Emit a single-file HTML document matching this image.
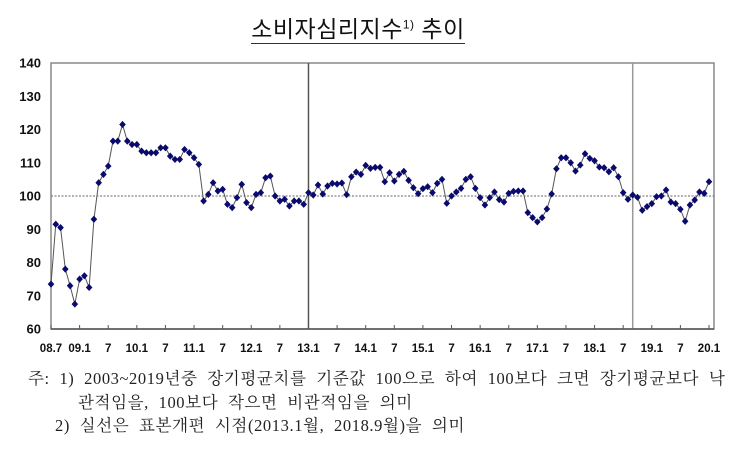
<!DOCTYPE html>
<html><head><meta charset="utf-8"><style>
body{margin:0;background:#fff;width:745px;height:470px;overflow:hidden;position:relative;font-family:"Liberation Sans","Noto Sans CJK KR",sans-serif}
#title{position:absolute;left:0;width:716px;top:10px;text-align:center;font-size:23px;letter-spacing:0.5px;font-family:"Liberation Sans","Noto Sans CJK KR",sans-serif;color:#111}
#title span{border-bottom:1.5px solid #333;padding-bottom:1px}
.note{position:absolute;font-family:"Liberation Serif","Noto Serif CJK KR",serif;font-size:16.5px;color:#222;white-space:nowrap;letter-spacing:0.6px;word-spacing:5px}
</style></head><body>
<div id="title"><span>소비자심리지수<sup style="font-size:12px">1)</sup> 추이</span></div>
<svg id="chart" width="745" height="470" style="position:absolute;left:0;top:0"></svg>
<div class="note" style="left:28px;top:365px">주: 1) 2003~2019년중 장기평균치를 기준값 100으로 하여 100보다 크면 장기평균보다 낙</div>
<div class="note" style="left:78px;top:389px">관적임을, 100보다 작으면 비관적임을 의미</div>
<div class="note" style="left:55px;top:412px">2) 실선은 표본개편 시점(2013.1월, 2018.9월)을 의미</div>
<script>
const values=[73.5,91.5,90.5,78,73,67.5,
75,76,72.5,93,104,106.5,109,116.5,116.5,121.5,116.5,115.5,
115.5,113.5,113,113,113,114.5,114.5,112,111,111,114,113,
111.5,109.5,98.5,100.5,104,101.5,102,97.5,96.5,99.5,103.5,98,
96.5,100.5,101,105.5,106,100,98.5,99,97,98.5,98.5,97.5,
101,100.3,103.3,100.6,103,103.8,103.6,103.9,100.4,105.8,107.2,106.5,
109.2,108.3,108.6,108.6,104.3,107,104.5,106.5,107.4,104.7,102.5,100.7,
102.2,102.8,101,103.8,105,97.8,100,101.2,102.3,105,105.8,102.3,
99.5,97.3,99.5,101.2,98.9,98.2,100.8,101.4,101.5,101.5,95,93.5,
92.2,93.5,96.1,100.6,108.2,111.5,111.5,110,107.5,109.3,112.7,111.3,
110.6,108.7,108.5,107.3,108.5,105.8,101,99,100.3,99.6,95.7,96.8,
97.7,99.8,100,101.8,98.2,97.7,96,92.4,97.3,98.8,101.2,100.8,
104.3];
const xLabels=["08.7","09.1","7","10.1","7","11.1","7","12.1","7","13.1","7","14.1","7","15.1","7","16.1","7","17.1","7","18.1","7","19.1","7","20.1"];
const yTicks=[60,70,80,90,100,110,120,130,140];
const breakIdx=[54,122];
const NS="http://www.w3.org/2000/svg";
const svg=document.getElementById('chart');
const L=51,R=714,T=63,B=329,x0=51,x1=709;
const xs=i=>x0+i*(x1-x0)/(values.length-1);
const ys=v=>B-(v-60)*(B-T)/80;
function mk(t,a){const e=document.createElementNS(NS,t);for(const k in a)e.setAttribute(k,a[k]);svg.appendChild(e);return e;}
let e=mk('rect',{x:L,y:T,width:R-L,height:B-T,fill:'none',stroke:'#888','stroke-width':1.5});


e=mk('line',{x1:L,x2:R,y1:ys(100),y2:ys(100),stroke:'#666','stroke-dasharray':'2,1.5','stroke-width':1});


breakIdx.forEach((bi,k)=>{const l=mk('line',{x1:xs(bi),x2:xs(bi),y1:T,y2:B,stroke:k==0?'#555':'#999','stroke-width':1.5});

});
e=mk('line',{x1:L,x2:R,y1:B,y2:B,stroke:'#555','stroke-width':1.5});


yTicks.forEach(v=>{const t=mk('text',{x:41,y:ys(v)+4.5,'text-anchor':'end','font-size':13,'font-weight':'bold',fill:'#111'});t.textContent=v;

});
xLabels.forEach((s,k)=>{const xi=k==0?0:6*k;const x=xs(xi);
const tk=mk('line',{x1:x,x2:x,y1:B,y2:B-4,stroke:'#555'});


const t=mk('text',{x:x,y:352,'text-anchor':'middle','font-size':11.5,'font-weight':'bold',fill:'#111'});t.textContent=s;

});
e=mk('polyline',{points:values.map((v,i)=>xs(i)+','+ys(v)).join(' '),fill:'none',stroke:'#555','stroke-width':1});


values.forEach((v,i)=>{const x=xs(i),y=ys(v);const p=mk('polygon',{points:`${x},${y-3.6} ${x+3.3},${y} ${x},${y+3.6} ${x-3.3},${y}`,fill:'#0a0a6e'});

});
</script>
</body></html>
